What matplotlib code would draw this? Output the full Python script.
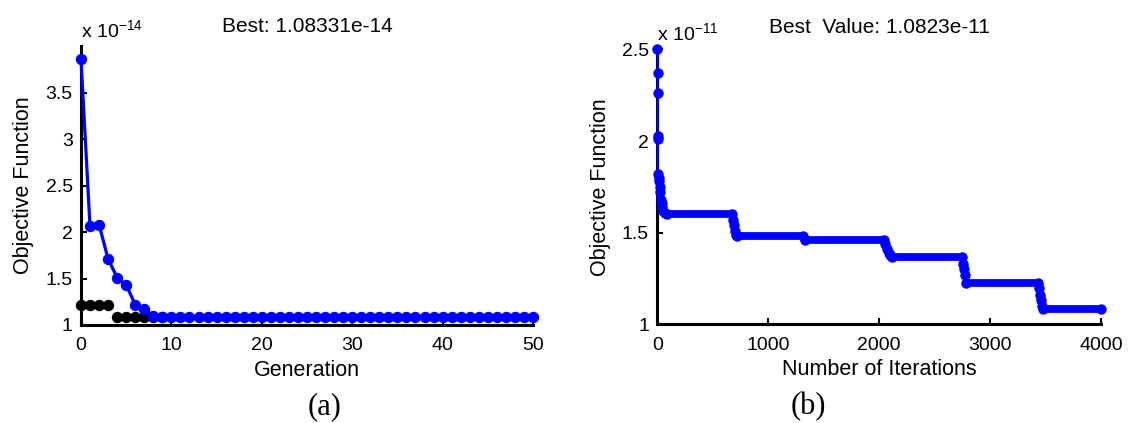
import numpy as np
import matplotlib
matplotlib.use('Agg')
from matplotlib import pyplot as plt

plt.rcParams['font.family'] = ['Liberation Sans', 'DejaVu Sans']
plt.rcParams['mathtext.fontset'] = 'custom'
plt.rcParams['mathtext.rm'] = 'Liberation Sans'
plt.rcParams['mathtext.it'] = 'Liberation Sans'

# (a) generations
gen = np.arange(0, 51)
best_gen = [3.86, 2.06, 2.08, 1.71, 1.51, 1.43, 1.22, 1.17, 1.10, 1.09] + [1.0833] * 41
black_gen = np.arange(0, 10)
black_val = [1.22, 1.22, 1.22, 1.22, 1.0833, 1.0833, 1.0833, 1.0833, 1.0833, 1.0833]

# (b) iterations: improvement points of best-so-far
iters = [0, 2, 4, 6, 8, 10, 13, 16, 20, 25, 30, 38, 45, 55, 70, 90,
         670, 680, 690, 700, 710, 720,
         1310, 1330,
         2040, 2055, 2070, 2085, 2100, 2115,
         2750, 2758, 2765, 2772, 2780,
         3430, 3440, 3450, 3460, 3470, 3480, 4000]
vals = [2.50, 2.37, 2.26, 2.03, 2.01, 1.82, 1.80, 1.78, 1.75, 1.72, 1.68, 1.66, 1.64, 1.62, 1.61, 1.60,
        1.60, 1.57, 1.54, 1.51, 1.49, 1.48,
        1.48, 1.462,
        1.462, 1.44, 1.41, 1.39, 1.38, 1.37,
        1.37, 1.33, 1.30, 1.27, 1.224,
        1.224, 1.20, 1.16, 1.13, 1.10, 1.0823, 1.0823]
# plateaus (dense markers in original)
plat_start = [90, 720, 1330, 2115, 2780, 3480]
plat_end = [670, 1310, 2040, 2750, 3430, 4000]
plat_val = [1.60, 1.48, 1.462, 1.37, 1.224, 1.0823]

fig = plt.figure(figsize=(11.28, 4.23), dpi=100)
ax1 = fig.add_axes([0.0718, 0.2317, 0.4007, 0.659])
ax2 = fig.add_axes([0.5827, 0.2333, 0.3933, 0.6497])

for ax in (ax1, ax2):
    ax.spines['top'].set_visible(False)
    ax.spines['right'].set_visible(False)
    ax.spines['left'].set_linewidth(2.2)
    ax.spines['bottom'].set_linewidth(2.2)
    ax.tick_params(direction='in', length=4, width=1.5, labelsize=14)
    ax.tick_params(axis='x', pad=9)
    ax.tick_params(axis='y', pad=6)

# left
ax1.plot(black_gen, black_val, 'o', color='black', ms=7.2, zorder=2)
ax1.plot(gen, best_gen, '-o', color='#0000ff', lw=2.3, ms=7.2, zorder=3)
ax1.set_xlim(0, 50)
ax1.set_ylim(1, 4.0)
ax1.set_xticks([0, 10, 20, 30, 40, 50])
ax1.set_yticks([1, 1.5, 2, 2.5, 3, 3.5])
ax1.set_yticklabels(['1', '1.5', '2', '2.5', '3', '3.5'])
ax1.set_xlabel('Generation', fontsize=15.5, labelpad=4)
ax1.set_ylabel('Objective Function', fontsize=15.5, labelpad=8)
ax1.set_title('Best: 1.08331e-14', fontsize=15, pad=10)
ax1.text(0.0, 1.018, r'x 10$^{-14}$', transform=ax1.transAxes, fontsize=14, ha='left', va='bottom')
fig.text(325 / 1128, 1 - 407 / 423, '(a)', fontsize=22, ha='center', va='center',
         family='Liberation Serif')

# right
ax2.hlines(plat_val, plat_start, plat_end, colors='#0000ff', lw=5.6, capstyle='round', zorder=2)
ax2.plot(iters, vals, '-', color='#0000ff', lw=1.6, drawstyle='steps-post', zorder=3)
ax2.plot(iters, vals, 'o', color='#0000ff', ms=6.5, zorder=3)
ax2.set_xlim(0, 4000)
ax2.set_ylim(1, 2.5)
ax2.set_xticks([0, 1000, 2000, 3000, 4000])
ax2.set_yticks([1, 1.5, 2, 2.5])
ax2.set_yticklabels(['1', '1.5', '2', '2.5'])
ax2.set_xlabel('Number of Iterations', fontsize=15.5, labelpad=4)
ax2.set_ylabel('Objective Function', fontsize=15.5, labelpad=8)
ax2.set_title('Best  Value: 1.0823e-11', fontsize=15, pad=11.8)
ax2.text(0.0, 1.02, r'x 10$^{-11}$', transform=ax2.transAxes, fontsize=14, ha='left', va='bottom')
fig.text(808 / 1128, 1 - 407 / 423, '(b)', fontsize=22, ha='center', va='center',
         family='Liberation Serif')

for ax in (ax1, ax2):
    for sp in ax.spines.values():
        sp.set_clip_on(False)
    for ln in ax.lines:
        ln.set_clip_on(False)

fig.savefig('out.png', dpi=100)
